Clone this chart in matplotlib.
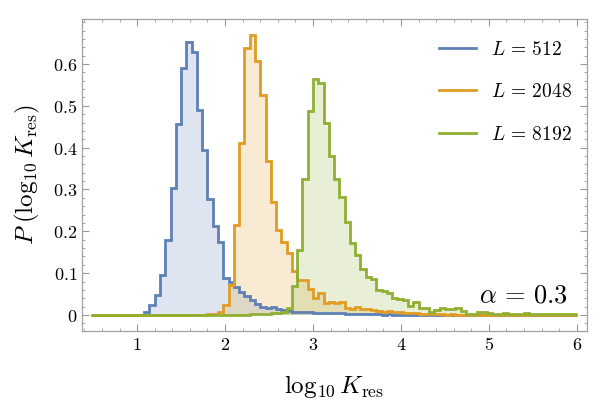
import numpy as np
import matplotlib
matplotlib.use("Agg")
import matplotlib.pyplot as plt
from matplotlib.ticker import MultipleLocator, FixedLocator, FuncFormatter
from matplotlib.lines import Line2D

plt.rcParams['mathtext.fontset'] = 'cm'
plt.rcParams['font.family'] = 'serif'
plt.rcParams['font.serif'] = ['DejaVu Serif']

# bins of log10 K_res, width 0.06
bin_lo = 0.48
bin_w = 0.06
n_bins = 92

# histogram heights per bin
p_512 = [0] * 10 + [
    0.008, 0.024, 0.048, 0.095, 0.179, 0.304, 0.456, 0.590, 0.653, 0.629,
    0.490, 0.394, 0.277, 0.213, 0.175, 0.088, 0.080, 0.066, 0.055, 0.045,
    0.035, 0.026, 0.020, 0.016, 0.018, 0.014, 0.012, 0.010, 0.008, 0.008,
    0.006, 0.006, 0.005, 0.005, 0.004, 0.005, 0.004, 0.004, 0.003, 0.003,
    0.002, 0.003, 0.002, 0.002, 0.002, 0.001, 0.002, 0.001] + [0] * 34

p_2048 = [0] * 22 + [
    0.002, 0.003, 0.008, 0.024, 0.072, 0.215, 0.412, 0.639, 0.669, 0.608,
    0.526, 0.367, 0.271, 0.202, 0.175, 0.147, 0.106, 0.084, 0.084, 0.062,
    0.040, 0.052, 0.028, 0.030, 0.028, 0.030, 0.016, 0.015, 0.018, 0.015,
    0.015, 0.012, 0.010, 0.008, 0.010, 0.006, 0.008, 0.005, 0.004, 0.004,
    0.003, 0.002, 0.002, 0.003, 0.002, 0.001, 0.002, 0.001, 0.001, 0.001,
    0.001, 0.001] + [0] * 18

p_8192 = [0] * 28 + [
    0.001, 0.001, 0.002, 0.002, 0.003, 0.003, 0.004, 0.005, 0.006, 0.016,
    0.070, 0.155, 0.325, 0.488, 0.565, 0.555, 0.460, 0.380, 0.324, 0.283,
    0.223, 0.173, 0.143, 0.109, 0.090, 0.085, 0.060, 0.058, 0.052, 0.041,
    0.038, 0.037, 0.022, 0.032, 0.016, 0.016, 0.006, 0.012, 0.016, 0.015,
    0.015, 0.016, 0.010, 0.002, 0.003, 0.006, 0.006, 0.004, 0.003, 0.003,
    0.004, 0.003, 0.002, 0.003, 0.004, 0.003, 0.002, 0.002, 0.003, 0.002,
    0.002, 0.002, 0.003, 0.002]

labels = [r'$L\,=\,512$', r'$L\,=\,2048$', r'$L\,=\,8192$']
colors = ['#5E81B5', '#E19C24', '#8FB032']
y_ticks = [0, 0.1, 0.2, 0.3, 0.4, 0.5, 0.6]

edges = bin_lo + bin_w * np.arange(n_bins + 1)

fig = plt.figure(figsize=(6.0, 4.09), dpi=100)
ax = fig.add_axes([0.137, 0.191, 0.841, 0.763])

for vals, c in zip([p_512, p_2048, p_8192], colors):
    vals = np.array(vals, dtype=float)
    ax.stairs(vals, edges, fill=True, color=c, alpha=0.2, lw=0)
for vals, c in zip([p_512, p_2048, p_8192], colors):
    vals = np.array(vals, dtype=float)
    ax.stairs(vals, edges, fill=False, color=c, lw=2.0, baseline=None)

ax.set_xlim(0.375, 6.114)
ax.set_ylim(-0.038, 0.708)

ax.xaxis.set_major_locator(MultipleLocator(1))
ax.xaxis.set_minor_locator(MultipleLocator(0.2))
ax.yaxis.set_major_locator(FixedLocator(y_ticks))
ax.yaxis.set_minor_locator(MultipleLocator(0.02))
ax.xaxis.set_major_formatter(FuncFormatter(lambda v, p: r'$%d$' % round(v)))
ax.yaxis.set_major_formatter(FuncFormatter(lambda v, p: r'$0$' if abs(v) < 1e-9 else r'$%.1f$' % v))

ax.tick_params(which='both', direction='in', top=True, right=True, color='#999999', labelsize=13)
ax.tick_params(which='major', length=5, width=0.8)
ax.tick_params(which='minor', length=2.5, width=0.6)
for s in ax.spines.values():
    s.set_color('#a0a0a0')
    s.set_linewidth(0.9)

ax.set_xlabel(r'$\log_{10} K_{\rm res}$', fontsize=18, labelpad=14)
ax.set_ylabel(r'$P\;(\log_{10} K_{\rm res})$', fontsize=18, labelpad=8)

handles = [Line2D([], [], color=c, lw=2.0) for c in colors]
ax.legend(handles, labels, loc='upper right', bbox_to_anchor=(1.005, 0.985), frameon=False,
          fontsize=14, handlelength=1.9, handletextpad=0.75, labelspacing=1.25)

ax.text(5.9, 0.03, r'$\alpha\,=\,0.3$', fontsize=19, ha='right', va='baseline')

fig.savefig('out.png', dpi=100)
